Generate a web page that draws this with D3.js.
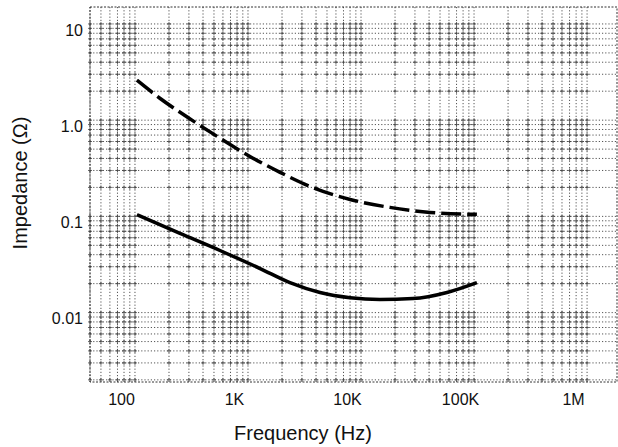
<!DOCTYPE html>
<html>
<head>
<meta charset="utf-8">
<script src="https://cdn.jsdelivr.net/npm/d3@7"></script>
<style>
  body { margin: 0; background: #fff; }
  text { font-family: "Liberation Sans", Arial, sans-serif; fill: #111; }
</style>
</head>
<body>
<div id="chart"></div>
<script>
// values (Hz, ohms)
var freqSolid = [104, 250, 565, 1280, 2350, 4340, 8000, 14700, 28800, 57600, 106000];
var impSolid = [0.104, 0.0665, 0.0442, 0.0287, 0.0205, 0.0162, 0.0143, 0.0137, 0.014, 0.0162, 0.0205];
var freqDashed = [104, 166, 319, 565, 1040, 1920, 3540, 8000, 18000, 40800, 106000];
var impDashed = [2.6, 1.69, 1.0, 0.65, 0.42, 0.287, 0.205, 0.15, 0.124, 0.11, 0.105];

var xTicks = [100, 1e3, 1e4, 1e5, 1e6];
var xTickLabels = ["100", "1K", "10K", "100K", "1M"];
var yTicks = [10, 1, 0.1, 0.01];
var yTickLabels = ["10", "1.0", "0.1", "0.01"];

var W = 618, H = 447;
var margin = { top: 7, right: 1, bottom: 65, left: 90 },
  width = W - margin.left - margin.right,
  height = H - margin.top - margin.bottom;

var svg = d3
  .select("#chart")
  .append("svg")
  .attr("width", W)
  .attr("height", H)
  .append("g")
  .attr("transform", "translate(" + margin.left + "," + margin.top + ")");

var x = d3.scaleLog().domain([40, 1.84e6]).range([0, width]);
var y = d3.scaleLog().domain([15, 0.0019]).range([0, height]);

// log paper grid
var gridStyle = function (sel) {
  sel
    .style("stroke", "#2a2a2a")
    .style("stroke-width", 0.8)
    .style("stroke-dasharray", "1.2,2");
};
var grid = svg.append("g").attr("class", "grid");
grid
  .selectAll("line.v")
  .data(x.ticks())
  .enter()
  .append("line")
  .attr("x1", function (d) { return x(d); })
  .attr("x2", function (d) { return x(d); })
  .attr("y1", 0)
  .attr("y2", height)
  .call(gridStyle);
grid
  .selectAll("line.h")
  .data(y.ticks())
  .enter()
  .append("line")
  .attr("y1", function (d) { return y(d); })
  .attr("y2", function (d) { return y(d); })
  .attr("x1", 0)
  .attr("x2", width)
  .call(gridStyle);

// little crosses where the printed grid lines meet
var crossings = [];
x.ticks().forEach(function (fx) {
  y.ticks().forEach(function (fy) { crossings.push([fx, fy]); });
});
grid
  .selectAll("path.cross")
  .data(crossings)
  .enter()
  .append("path")
  .attr("d", function (d) {
    var cx = x(d[0]), cy = y(d[1]);
    return "M" + (cx - 2) + "," + cy + "h4M" + cx + "," + (cy - 2) + "v4";
  })
  .style("stroke", "#444")
  .style("stroke-width", 0.8)
  .style("fill", "none");

// frame
svg
  .append("rect")
  .attr("width", width)
  .attr("height", height)
  .style("fill", "none")
  .style("stroke", "#333")
  .style("stroke-width", 1)
  .style("stroke-dasharray", "2,1.5");

// x axis
svg
  .append("g")
  .attr("transform", "translate(0," + height + ")")
  .call(d3.axisBottom(x).tickValues(xTicks).tickSize(0).tickPadding(12)
    .tickFormat(function (d, i) { return xTickLabels[i]; }))
  .call(function (g) { g.select(".domain").remove(); })
  .selectAll("text")
  .attr("dx", -14)
  .style("font-size", "16px")
  .style("font-family", "'Liberation Sans', Arial, sans-serif")
  .style("fill", "#111");

// y axis
svg
  .append("g")
  .call(d3.axisLeft(y).tickValues(yTicks).tickSize(0).tickPadding(7)
    .tickFormat(function (d, i) { return yTickLabels[i]; }))
  .call(function (g) { g.select(".domain").remove(); })
  .selectAll("text")
  .attr("dy", "0.7em")
  .style("font-size", "16px")
  .style("font-family", "'Liberation Sans', Arial, sans-serif")
  .style("fill", "#111");

// curves
var line = d3.line()
  .x(function (d) { return x(d[0]); })
  .y(function (d) { return y(d[1]); })
  .curve(d3.curveMonotoneX);

svg
  .append("path")
  .datum(d3.zip(freqSolid, impSolid))
  .attr("d", line)
  .style("fill", "none")
  .style("stroke", "#000")
  .style("stroke-width", 3.5);

svg
  .append("path")
  .datum(d3.zip(freqDashed, impDashed))
  .attr("d", line)
  .style("fill", "none")
  .style("stroke", "#000")
  .style("stroke-width", 3.5)
  .style("stroke-dasharray", "20,6");

// axis titles
svg
  .append("text")
  .attr("x", 213)
  .attr("y", height + 58)
  .attr("text-anchor", "middle")
  .style("font-size", "20px")
  .text("Frequency (Hz)");

svg
  .append("text")
  .attr("transform", "translate(-63," + 176 + ") rotate(-90)")
  .attr("text-anchor", "middle")
  .style("font-size", "20px")
  .text("Impedance (Ω)");
</script>
</body>
</html>
